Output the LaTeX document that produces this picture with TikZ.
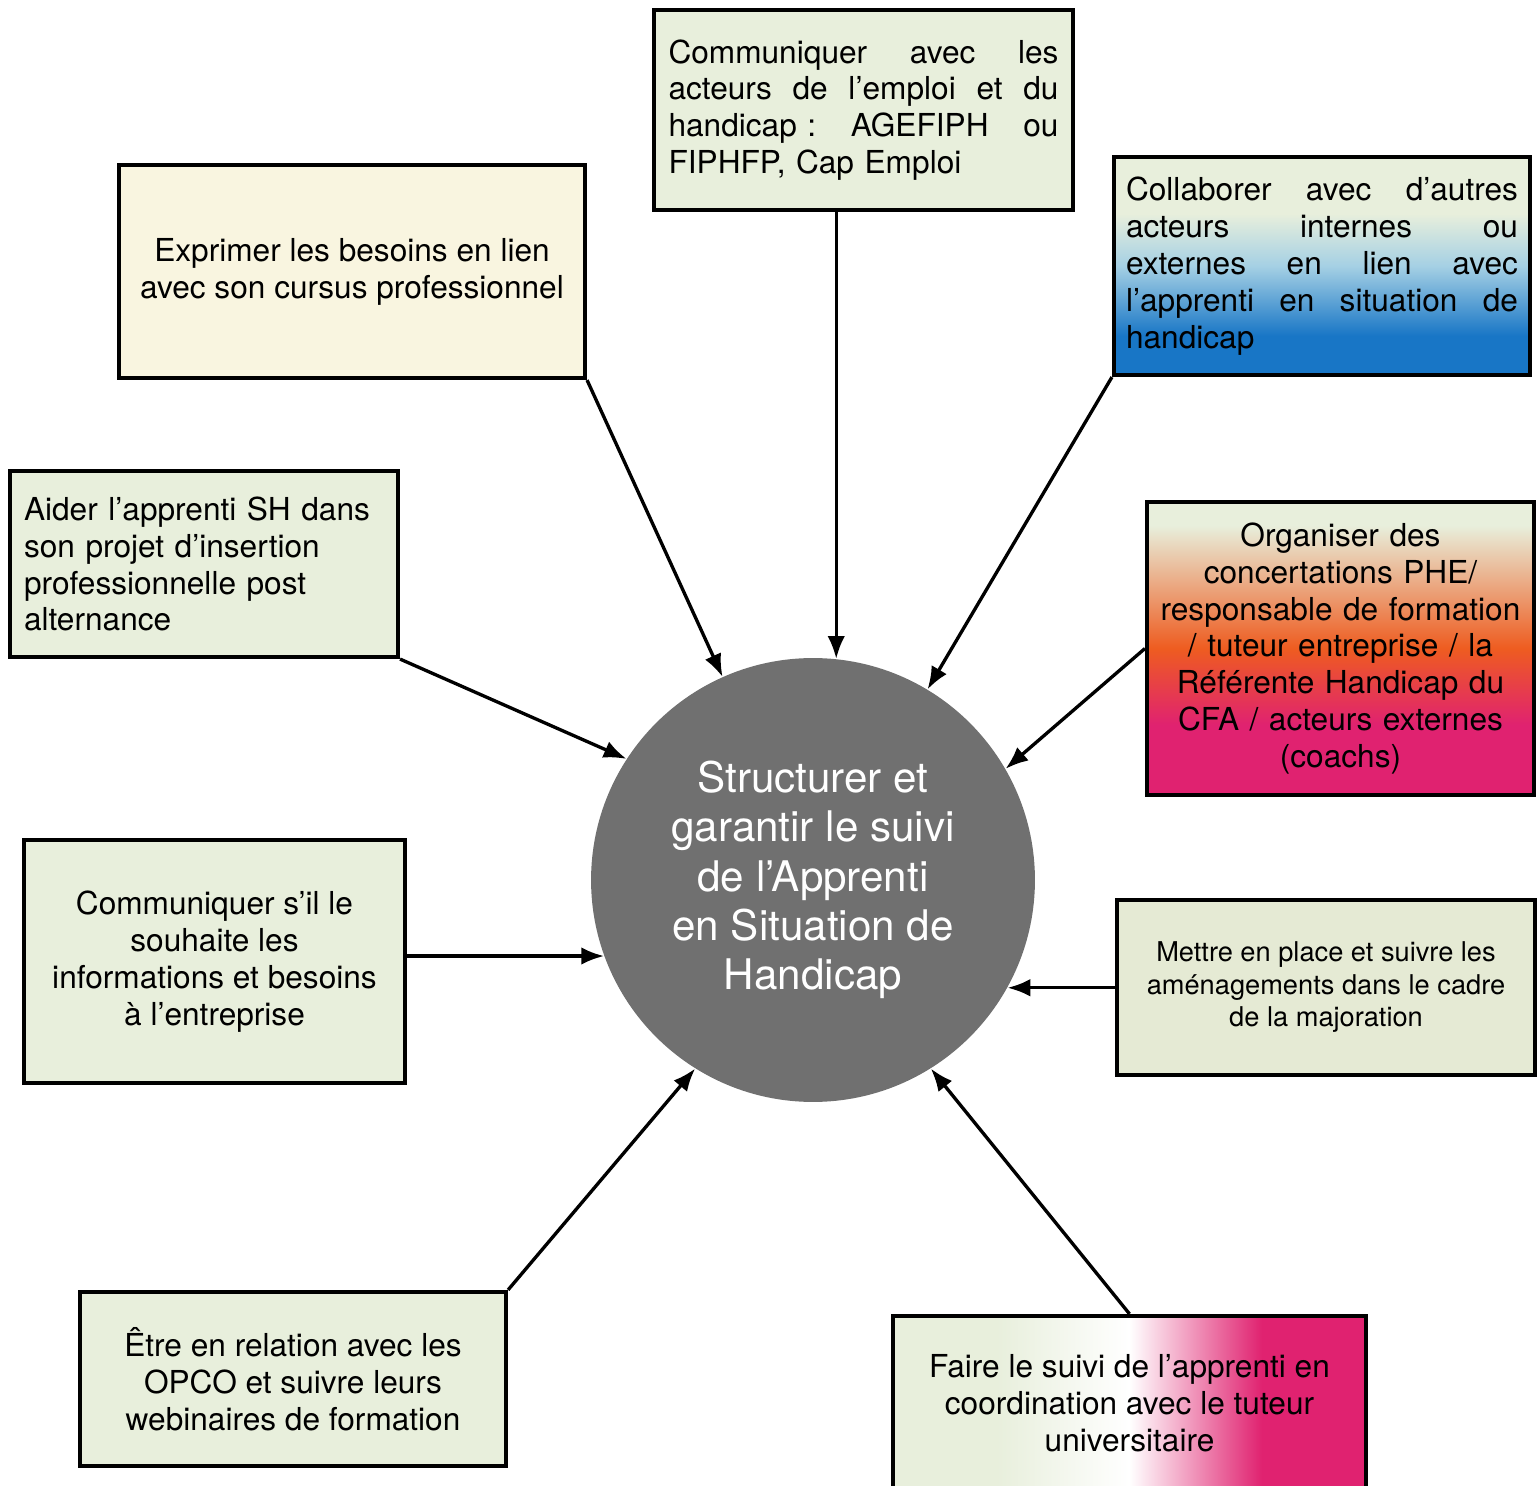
\documentclass[tikz,border=0pt]{standalone}
\usepackage{fontspec}
\setmainfont{TeX Gyre Heros}
\usetikzlibrary{arrows.meta}
\tikzset{>=latex}
\definecolor{palegreen}{RGB}{232,239,220}
\definecolor{sagegreen}{RGB}{229,234,212}
\definecolor{cream}{RGB}{249,245,224}
\definecolor{hubgray}{RGB}{112,112,112}
\definecolor{skyblue}{RGB}{165,208,228}
\definecolor{deepblue}{RGB}{24,118,198}
\definecolor{hotorange}{RGB}{238,92,32}
\definecolor{hotpink}{RGB}{224,34,112}
\pgfdeclareverticalshading{collabshade}{100bp}{color(0bp)=(deepblue); color(34bp)=(deepblue); color(50bp)=(skyblue); color(62bp)=(palegreen); color(100bp)=(palegreen)}
\pgfdeclareverticalshading{orgashade}{100bp}{color(0bp)=(hotpink); color(37bp)=(hotpink); color(50bp)=(hotorange); color(71bp)=(palegreen); color(100bp)=(palegreen)}
\pgfdeclarehorizontalshading{tutshade}{100bp}{color(0bp)=(palegreen); color(36bp)=(palegreen); color(50bp)=(white); color(64bp)=(hotpink); color(100bp)=(hotpink)}
\tikzset{
  box/.style={draw, line width=2.4pt, rectangle, inner sep=0pt,
    font=\fontsize{18}{21}\selectfont, align=center},
  link/.style={-{Latex[length=13pt,width=10pt]}, line width=1.9pt},
}

\begin{document}
\begin{tikzpicture}[x=0.02cm, y=-0.02cm]
  \useasboundingbox (0,0) rectangle (1539,1486);

  \coordinate (O) at (813,880);
  \node[circle, fill=hubgray, minimum size=8.88cm, inner sep=0pt, text=white,
    font=\fontsize{24}{28}\selectfont, align=center] (hub) at (O)
    {Structurer et\\garantir le suivi\\de l’Apprenti\\en Situation de\\Handicap};

  % boxes round the hub
  \node[box, fill=palegreen, minimum width=8.38cm, minimum height=4cm,
    text width=7.8cm, align=left] (emploi) at (863.5,110)
    {Communiquer\hfill avec\hfill les\\acteurs\hfill de\hfill l’emploi\hfill et\hfill du\\handicap~:\hfill AGEFIPH\hfill ou\\FIPHFP, Cap Emploi};
  \node[box, fill=cream, minimum width=9.32cm, minimum height=4.26cm] (besoins) at (352,271.5)
    {Exprimer les besoins en lien\\avec son cursus professionnel};
  \node[box, shading=collabshade, minimum width=8.32cm, minimum height=4.36cm,
    text width=7.84cm, align=left] (collab) at (1322,266)
    {Collaborer\hfill avec\hfill d’autres\\acteurs\hfill internes\hfill ou\\externes\hfill en\hfill lien\hfill avec\\l’apprenti\hfill en\hfill situation\hfill de\\handicap};
  \node[box, fill=palegreen, minimum width=7.76cm, minimum height=3.72cm,
    text width=7.2cm, align=left] (aider) at (204,564)
    {Aider l’apprenti SH dans\\son projet d’insertion\\professionnelle post\\alternance};
  \node[box, shading=orgashade, minimum width=7.74cm, minimum height=5.86cm,
    text width=7.4cm] (orga) at (1340.5,648.5)
    {Organiser des\\concertations PHE/\\responsable de formation\\/ tuteur entreprise / la\\Référente Handicap du\\CFA / acteurs externes\\(coachs)};
  \node[box, fill=palegreen, minimum width=7.62cm, minimum height=4.86cm] (infos) at (214.5,961.5)
    {Communiquer s’il le\\souhaite les\\informations et besoins\\à l’entreprise};
  \node[box, fill=sagegreen, minimum width=8.36cm, minimum height=3.5cm,
    font=\fontsize{15.5}{18.5}\selectfont] (amenag) at (1326,987.5)
    {Mettre en place et suivre les\\aménagements dans le cadre\\de la majoration};
  \node[box, fill=palegreen, minimum width=8.52cm, minimum height=3.48cm] (opco) at (293,1379)
    {Être en relation avec les\\OPCO et suivre leurs\\webinaires de formation};
  \node[box, shading=tutshade, minimum width=9.46cm, minimum height=3.5cm] (tuteur) at (1129.5,1403.5)
    {Faire le suivi de l’apprenti en\\coordination avec le tuteur\\universitaire};

  % arrows into the hub
  \draw[link] (besoins.south east) -- (hub.114);
  \draw[link] (emploi.south -| hub.84) -- (hub.84);
  \draw[link] (collab.south west) -- (hub.59);
  \draw[link] (aider.south east) -- (hub.147);
  \draw[link] (orga.west) -- (hub.30);
  \draw[link] (infos.east |- hub.200) -- (hub.200);
  \draw[link] (amenag.west |- hub.331) -- (hub.331);
  \draw[link] (opco.north east) -- (hub.238);
  \draw[link] (tuteur.north) -- (hub.302);
\end{tikzpicture}
\end{document}
